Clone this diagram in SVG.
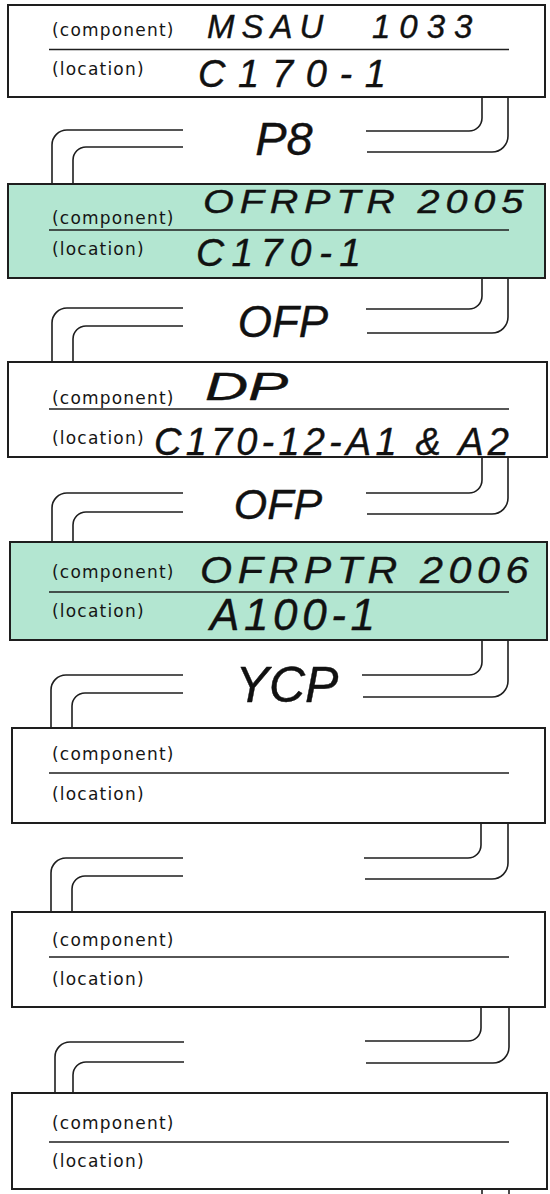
<svg xmlns="http://www.w3.org/2000/svg" width="550" height="1194" viewBox="0 0 550 1194">
<style>
.box{fill:#ffffff;stroke:#1e1e1e;stroke-width:2}
.grn{fill:#b3e6d1}
.div{stroke:#1e1e1e;stroke-width:1.5}
.lbl{font-family:"DejaVu Sans",sans-serif;font-size:17px;letter-spacing:1.2px;fill:#151515}
.hw{font-family:"Liberation Sans",Arial,sans-serif;font-style:italic;fill:#111;stroke:#111;stroke-width:0.4;stroke-linejoin:round}
.cn{fill:none;stroke:#1e1e1e;stroke-width:1.6}
</style>
<rect width="550" height="1194" fill="#ffffff"/>
<g id="node1">
<rect class="box" x="8" y="5" width="537" height="92"/>
<line class="div" x1="49" y1="49.5" x2="509" y2="49.5"/>
<text class="lbl" x="52" y="36">(component)</text>
<text class="lbl" x="52" y="75">(location)</text>
<text class="hw" x="207" y="38" font-size="33"><tspan letter-spacing="7">MSAU </tspan><tspan x="372" letter-spacing="9">1033</tspan></text>
<text class="hw" x="198" y="87" font-size="38" textLength="188" lengthAdjust="spacing">C170-1</text>
</g>
<g id="node2">
<rect class="box grn" x="8" y="184" width="537" height="94"/>
<line class="div" x1="49" y1="230" x2="509" y2="230"/>
<text class="lbl" x="52" y="224">(component)</text>
<text class="lbl" x="52" y="255">(location)</text>
<text class="hw" x="203" y="213" font-size="34" letter-spacing="5" textLength="326" lengthAdjust="spacingAndGlyphs">OFRPTR 2005</text>
<text class="hw" x="196" y="266" font-size="39" textLength="165" lengthAdjust="spacing">C170-1</text>
</g>
<g id="node3">
<rect class="box" x="8" y="362" width="539" height="95"/>
<line class="div" x1="49" y1="409" x2="509" y2="409"/>
<text class="lbl" x="52" y="404">(component)</text>
<text class="lbl" x="52" y="444">(location)</text>
<text class="hw" x="205" y="400" font-size="38" textLength="83" lengthAdjust="spacingAndGlyphs">DP</text>
<text class="hw" x="154" y="455" font-size="38" textLength="355" lengthAdjust="spacing">C170-12-A1 &amp; A2</text>
</g>
<g id="node4">
<rect class="box grn" x="10" y="542" width="537" height="98"/>
<line class="div" x1="49" y1="592" x2="509" y2="592"/>
<text class="lbl" x="52" y="578">(component)</text>
<text class="lbl" x="52" y="617">(location)</text>
<text class="hw" x="200" y="583" font-size="37" letter-spacing="5" textLength="334" lengthAdjust="spacingAndGlyphs">OFRPTR 2006</text>
<text class="hw" x="210" y="630" font-size="44" textLength="165" lengthAdjust="spacing">A100-1</text>
</g>
<g id="node5">
<rect class="box" x="12" y="728" width="533" height="95"/>
<line class="div" x1="49" y1="773" x2="509" y2="773"/>
<text class="lbl" x="52" y="760">(component)</text>
<text class="lbl" x="52" y="800">(location)</text>
</g>
<g id="node6">
<rect class="box" x="12" y="912" width="533" height="95"/>
<line class="div" x1="49" y1="957" x2="509" y2="957"/>
<text class="lbl" x="52" y="946">(component)</text>
<text class="lbl" x="52" y="985">(location)</text>
</g>
<g id="node7">
<rect class="box" x="12" y="1093" width="535" height="96"/>
<line class="div" x1="49" y1="1142" x2="509" y2="1142"/>
<text class="lbl" x="52" y="1129">(component)</text>
<text class="lbl" x="52" y="1167">(location)</text>
</g>
<g id="connectors">
<path class="cn" d="M482 97 V118 A13 13 0 0 1 469 131 H366"/>
<path class="cn" d="M508 97 V136 A16 16 0 0 1 492 152 H367"/>
<path class="cn" d="M183 130 H67 A15 15 0 0 0 52 145 V184"/>
<path class="cn" d="M183 147 H86 A13 13 0 0 0 73 160 V184"/>
<text class="hw" x="284" y="155" font-size="47" text-anchor="middle">P8</text>

<path class="cn" d="M482 278 V296 A13 13 0 0 1 469 309 H366"/>
<path class="cn" d="M508 278 V317 A16 16 0 0 1 492 333 H367"/>
<path class="cn" d="M183 308 H67 A15 15 0 0 0 52 323 V362"/>
<path class="cn" d="M183 326 H86 A13 13 0 0 0 73 339 V362"/>
<text class="hw" x="283" y="337" font-size="44" text-anchor="middle">OFP</text>

<path class="cn" d="M482 457 V480 A13 13 0 0 1 469 493 H366"/>
<path class="cn" d="M508 457 V498 A16 16 0 0 1 492 514 H367"/>
<path class="cn" d="M183 493 H67 A15 15 0 0 0 52 508 V542"/>
<path class="cn" d="M183 512 H86 A13 13 0 0 0 73 525 V542"/>
<text class="hw" x="278" y="519" font-size="43" text-anchor="middle">OFP</text>

<path class="cn" d="M482 640 V662 A13 13 0 0 1 469 675 H362"/>
<path class="cn" d="M508 640 V681 A16 16 0 0 1 492 697 H363"/>
<path class="cn" d="M183 675 H66 A15 15 0 0 0 51 690 V728"/>
<path class="cn" d="M183 693 H85 A13 13 0 0 0 72 706 V728"/>
<text class="hw" x="287" y="702" font-size="50" text-anchor="middle">YCP</text>

<path class="cn" d="M481 823 V845 A13 13 0 0 1 468 858 H364"/>
<path class="cn" d="M508 823 V863 A16 16 0 0 1 492 879 H365"/>
<path class="cn" d="M183 858 H66 A15 15 0 0 0 51 873 V912"/>
<path class="cn" d="M183 876 H85 A13 13 0 0 0 72 889 V912"/>

<path class="cn" d="M481 1007 V1028 A13 13 0 0 1 468 1041 H365"/>
<path class="cn" d="M509 1007 V1047 A16 16 0 0 1 493 1063 H366"/>
<path class="cn" d="M184 1042 H70 A15 15 0 0 0 55 1057 V1093"/>
<path class="cn" d="M184 1062 H86 A13 13 0 0 0 73 1075 V1093"/>

<path class="cn" d="M482 1189 V1194"/>
<path class="cn" d="M509 1189 V1194"/>
</g>
</svg>
